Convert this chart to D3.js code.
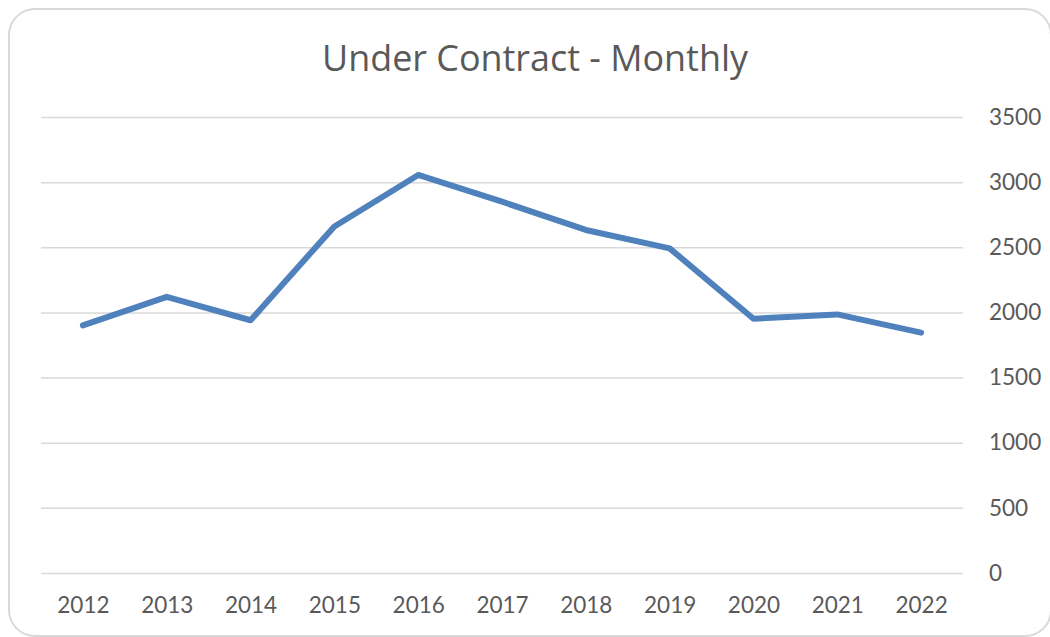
<!DOCTYPE html>
<html>
<head>
<meta charset="utf-8">
<script src="https://cdn.jsdelivr.net/npm/d3@7"></script>
<style>
  html, body { margin: 0; padding: 0; background: #fff; }
  svg { display: block; }
</style>
</head>
<body>
<svg id="chart" width="1050" height="637"></svg>
<script>
const title = "Under Contract - Monthly";
const years = ["2012","2013","2014","2015","2016","2017","2018","2019","2020","2021","2022"];
const underContract = [1900, 2120, 1940, 2660, 3055, 2850, 2633, 2492, 1952, 1985, 1845];
const yTicks = [0, 500, 1000, 1500, 2000, 2500, 3000, 3500];

const svg = d3.select("#chart");
const plot = { left: 41, right: 963, top: 117, bottom: 573 };
const font = "Lato, 'Open Sans', sans-serif";
const titleFont = "'Open Sans', Lato, sans-serif";
const textColor = "#595959";

// Chart border
svg.append("rect")
  .attr("x", 9).attr("y", 9)
  .attr("width", 1042).attr("height", 627)
  .attr("rx", 26).attr("ry", 26)
  .attr("fill", "#fff")
  .attr("stroke", "#d9d9d9")
  .attr("stroke-width", 2);

const x = d3.scalePoint().domain(years).range([plot.left, plot.right]).padding(0.5);
const y = d3.scaleLinear().domain([0, 3500]).range([plot.bottom, plot.top]);

// Gridlines + right axis labels
const yAxis = d3.axisRight(y).tickValues(yTicks).tickSize(plot.right - plot.left).tickPadding(26).tickFormat(d3.format("d"));
const gy = svg.append("g").attr("transform", `translate(${plot.left},0)`).call(yAxis);
gy.select(".domain").remove();
gy.selectAll(".tick line").attr("stroke", "#d9d9d9").attr("stroke-width", 1.5);
gy.selectAll(".tick text")
  .attr("fill", textColor)
  .style("font-family", font)
  .style("font-size", "22.5px");

// X axis labels
const xAxis = d3.axisBottom(x).tickSize(0).tickPadding(24);
const gx = svg.append("g").attr("transform", `translate(0,${plot.bottom})`).call(xAxis);
gx.select(".domain").remove();
gx.selectAll(".tick text")
  .attr("fill", textColor)
  .style("font-family", font)
  .style("font-size", "22.5px");

// Line
const line = d3.line()
  .x((d, i) => x(years[i]))
  .y(d => y(d));
svg.append("path")
  .datum(underContract)
  .attr("d", line)
  .attr("fill", "none")
  .attr("stroke", "#4f81bd")
  .attr("stroke-width", 6)
  .attr("stroke-linejoin", "round")
  .attr("stroke-linecap", "round");

// Title (font size fitted to the reference title width)
const t = svg.append("text")
  .attr("x", 535).attr("y", 71)
  .attr("text-anchor", "middle")
  .attr("fill", textColor)
  .style("font-family", titleFont)
  .style("font-size", "30px")
  .text(title);
const w = t.node().getComputedTextLength();
if (w > 0) t.style("font-size", (30 * 426 / w).toFixed(2) + "px");
</script>
</body>
</html>
